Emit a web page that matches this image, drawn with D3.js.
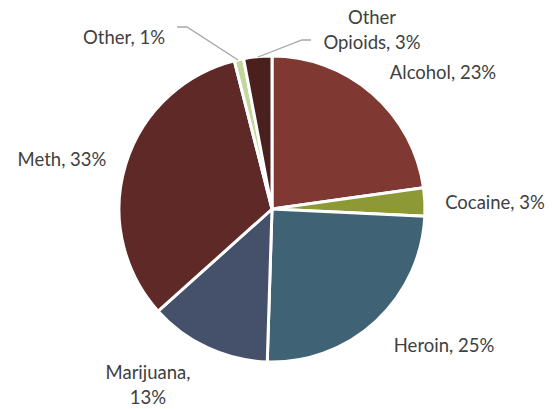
<!DOCTYPE html>
<html>
<head>
<meta charset="utf-8">
<script src="https://cdn.jsdelivr.net/npm/d3@7"></script>
<style>
  html, body { margin: 0; padding: 0; background: #fff; }
  svg text { font-family: Lato, "Open Sans", sans-serif; }
</style>
</head>
<body>
<svg id="chart" width="559" height="409"></svg>
<script>
// Substances, in clockwise order starting at 12 o'clock
const categories = ["Alcohol", "Cocaine", "Heroin", "Marijuana", "Meth", "Other", "Other Opioids"];
const shares = [23, 3, 25, 13, 33, 1, 3];
const labelLines = [
  ["Alcohol, 23%"],
  ["Cocaine, 3%"],
  ["Heroin, 25%"],
  ["Marijuana,", "13%"],
  ["Meth, 33%"],
  ["Other, 1%"],
  ["Other", "Opioids, 3%"]
];
const colors = ["#7f3832", "#8d9934", "#3f6375", "#45506a", "#5e2926", "#c3d69b", "#4a201e"];

// Label placement (text centre) and leader lines
const labelPos = [
  [443, 73], [495, 203], [444, 346], [148, 373], [62, 160], [124, 38], [372, 18]
];
const leaders = {
  5: [[177, 27], [187, 27], [238, 60]],
  6: [[258, 57], [302, 40], [311, 40]]
};

const svg = d3.select("#chart");
const cx = 272, cy = 209, R = 153;

const pie = d3.pie().sort(null).value(d => d.v);
const arc = d3.arc().innerRadius(0).outerRadius(R);
const data = pie(categories.map((c, i) => ({ c, v: shares[i], i })));

const g = svg.append("g").attr("transform", `translate(${cx},${cy})`);
g.selectAll("path.slice")
  .data(data)
  .join("path")
  .attr("class", "slice")
  .attr("d", arc)
  .attr("fill", d => colors[d.data.i])
  .attr("stroke", "#fff")
  .attr("stroke-width", 3)
  .attr("stroke-linejoin", "miter");

// leader lines
const line = d3.line();
Object.entries(leaders).forEach(([k, pts]) => {
  svg.append("path")
    .attr("d", line(pts))
    .attr("fill", "none")
    .attr("stroke", "#a6a6a6")
    .attr("stroke-width", 1.3);
});

// labels
const lineH = 25;
labelLines.forEach((lines, i) => {
  const [x, y] = labelPos[i];
  const t = svg.append("text")
    .attr("x", x)
    .attr("y", y)
    .attr("text-anchor", "middle")
    .attr("fill", "#404040")
    .attr("font-size", 18.5);
  lines.forEach((s, j) => {
    t.append("tspan")
      .attr("x", x)
      .attr("y", y + j * lineH)
      .attr("dy", "0.35em")
      .text(s);
  });
});
</script>
</body>
</html>
